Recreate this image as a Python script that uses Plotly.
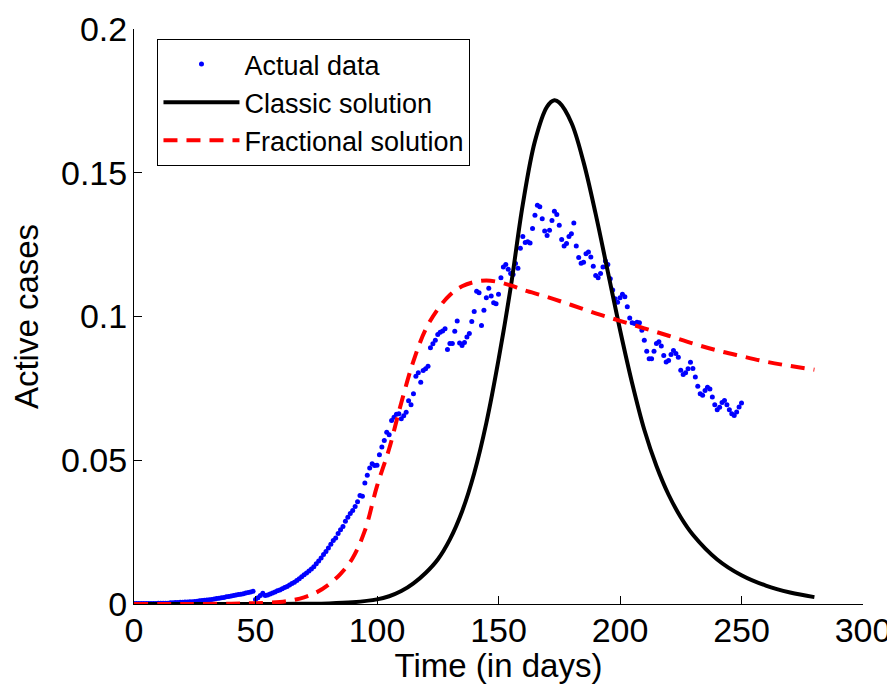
import plotly.graph_objects as go

# ---- Actual data (daily, day 0..250) ----
actual = [
    0.0002, 0.0002, 0.0002, 0.0002, 0.0002, 0.0002, 0.0002, 0.0002, 0.0002, 0.0002,
    0.0003, 0.0003, 0.0003, 0.0003, 0.0003, 0.0004, 0.0004, 0.0005, 0.0005, 0.0006,
    0.0006, 0.0007, 0.0007, 0.0008, 0.0008, 0.0009, 0.0010, 0.0011, 0.0012, 0.0013,
    0.0014, 0.0015, 0.0016, 0.0017, 0.0019, 0.0020, 0.0022, 0.0023, 0.0025, 0.0026,
    0.0028, 0.0030, 0.0031, 0.0033, 0.0034, 0.0036, 0.0038, 0.0040, 0.0042, 0.0044,
    0.0016, 0.0022, 0.0030, 0.0037, 0.0030, 0.0031, 0.0035, 0.0038, 0.0042, 0.0046,
    0.0049, 0.0053, 0.0057, 0.0061, 0.0066, 0.0071, 0.0076, 0.0082, 0.0088, 0.0095,
    0.0102, 0.0108, 0.0115, 0.0122, 0.0130, 0.0140, 0.0150, 0.0160, 0.0172, 0.0183,
    0.0195, 0.0208, 0.0221, 0.0230, 0.0245, 0.0258, 0.0270, 0.0288, 0.0302, 0.0315,
    0.0325, 0.0339, 0.0356, 0.0377, 0.0375, 0.0421, 0.0448, 0.0473, 0.0488, 0.0482,
    0.0483, 0.0519, 0.0546, 0.0569, 0.0597, 0.0589, 0.0638, 0.0650, 0.0660, 0.0662,
    0.0644, 0.0655, 0.0667, 0.0707, 0.0693, 0.0731, 0.0792, 0.0804, 0.0771, 0.0812,
    0.0818, 0.0827, 0.0891, 0.0905, 0.0917, 0.0937, 0.0945, 0.0950, 0.0957, 0.0885,
    0.0906, 0.0906, 0.0949, 0.0984, 0.0908, 0.0899, 0.0910, 0.0929, 0.0941, 0.0983,
    0.1017, 0.1088, 0.1083, 0.0969, 0.1022, 0.1065, 0.1098, 0.1071, 0.1048, 0.1044,
    0.1077, 0.1135, 0.1172, 0.1181, 0.1164, 0.1150, 0.1146, 0.1184, 0.1168, 0.1237,
    0.1278, 0.1257, 0.1260, 0.1256, 0.1306, 0.1352, 0.1387, 0.1382, 0.1340, 0.1297,
    0.1282, 0.1300, 0.1334, 0.1366, 0.1355, 0.1317, 0.1268, 0.1245, 0.1254, 0.1278,
    0.1288, 0.1325, 0.1245, 0.1205, 0.1185, 0.1189, 0.1218, 0.1224, 0.1207, 0.1175,
    0.1143, 0.1135, 0.1150, 0.1172, 0.1193, 0.1181, 0.1131, 0.1092, 0.1062, 0.1050,
    0.1065, 0.1077, 0.1069, 0.1034, 0.0995, 0.0978, 0.0976, 0.0980, 0.0978, 0.0952,
    0.0917, 0.0879, 0.0853, 0.0853, 0.0879, 0.0906, 0.0912, 0.0897, 0.0864, 0.0842,
    0.0847, 0.0868, 0.0882, 0.0871, 0.0858, 0.0813, 0.0798, 0.0804, 0.0818, 0.0841,
    0.0819, 0.0790, 0.0757, 0.0731, 0.0726, 0.0743, 0.0754, 0.0748, 0.0720, 0.0693,
    0.0676, 0.0684, 0.0701, 0.0708, 0.0693, 0.0676, 0.0662, 0.0656, 0.0668, 0.0685,
    0.0699,
]
actual_days = list(range(len(actual)))

# ---- Classic solution ----
classic_days = [0, 20, 40, 60, 70, 80, 90, 100, 105, 110, 115, 120, 125, 130, 135,
                140, 145, 150, 155, 160, 165, 170, 173, 175, 180, 185, 190, 195,
                200, 205, 210, 215, 220, 225, 230, 240, 250, 260, 270, 280]
classic_vals = [0.0, 0.0, 0.0, 0.00003, 0.0001, 0.0002, 0.0006, 0.0016, 0.0027,
                0.0045, 0.0072, 0.0108, 0.0155, 0.0225, 0.0322, 0.0455, 0.0630,
                0.0849, 0.1100, 0.1390, 0.1610, 0.1730, 0.1752, 0.1744, 0.1674,
                0.1537, 0.1356, 0.1155, 0.0954, 0.0768, 0.0606, 0.0480, 0.0380,
                0.0302, 0.0241, 0.0155, 0.0100, 0.0064, 0.0040, 0.0024]

# ---- Fractional solution ----
frac_days = [0, 20, 40, 50, 60, 65, 70, 75, 80, 85, 90, 95, 100, 105, 110, 115,
             120, 125, 130, 135, 140, 145, 150, 155, 160, 170, 180, 190, 200, 210,
             220, 230, 240, 250, 260, 270, 280]
frac_vals = [0.0, 0.0, 0.0001, 0.0003, 0.0007, 0.0013, 0.0023, 0.0040, 0.0067,
             0.0105, 0.0160, 0.0255, 0.0410, 0.0540, 0.0700, 0.0845, 0.0955,
             0.1025, 0.1075, 0.1105, 0.1120, 0.1125, 0.1120, 0.1108, 0.1093,
             0.1068, 0.1040, 0.1011, 0.0985, 0.0959, 0.0933, 0.0906, 0.0882,
             0.0862, 0.0843, 0.0828, 0.0815]

x_ticks = [0, 50, 100, 150, 200, 250, 300]
y_ticks = [0, 0.05, 0.1, 0.15, 0.2]
y_ticktext = ["0", "0.05", "0.1", "0.15", "0.2"]

FONT = "Liberation Sans, Arial, Helvetica, sans-serif"

fig = go.Figure()
fig.add_trace(go.Scatter(
    x=actual_days, y=actual, mode="markers", name="Actual data",
    marker=dict(color="#0000FF", size=5, line=dict(width=0)),
))
fig.add_trace(go.Scatter(
    x=classic_days, y=classic_vals, mode="lines", name="Classic solution",
    line=dict(color="black", width=4, shape="spline"),
))
fig.add_trace(go.Scatter(
    x=frac_days, y=frac_vals, mode="lines", name="Fractional solution",
    line=dict(color="#FF0000", width=4, dash="14px,9px", shape="spline"),
))

axis_common = dict(
    showline=True, linecolor="black", linewidth=1, mirror=False,
    ticks="inside", ticklen=8, tickcolor="black", tickwidth=1,
    showgrid=False, zeroline=False,
    tickfont=dict(family=FONT, size=34, color="black"),
)

# the page body adds an 8px offset, so the figure is 8px smaller than the window
fig.update_layout(
    width=887, height=676,
    margin=dict(l=126, r=32, t=21, b=80, autoexpand=False),
    paper_bgcolor="white", plot_bgcolor="white",
    font=dict(family=FONT, color="black"),
    xaxis=dict(range=[0, 300], tickvals=x_ticks, ticklabelstandoff=-4,
               title=dict(text="Time (in days)", font=dict(family=FONT, size=33), standoff=8),
               **axis_common),
    yaxis=dict(range=[0, 0.2], tickvals=y_ticks, ticktext=y_ticktext,
               ticklabelstandoff=-1,
               title=dict(text="Active cases", font=dict(family=FONT, size=33), standoff=12),
               **axis_common),
    legend=dict(
        x=0.0322, y=0.9826, xanchor="left", yanchor="top",
        bordercolor="black", borderwidth=1, bgcolor="white",
        font=dict(family=FONT, size=27, color="black"),
        tracegroupgap=0, itemwidth=76,
    ),
    showlegend=True,
)

fig.write_html("out.html")
